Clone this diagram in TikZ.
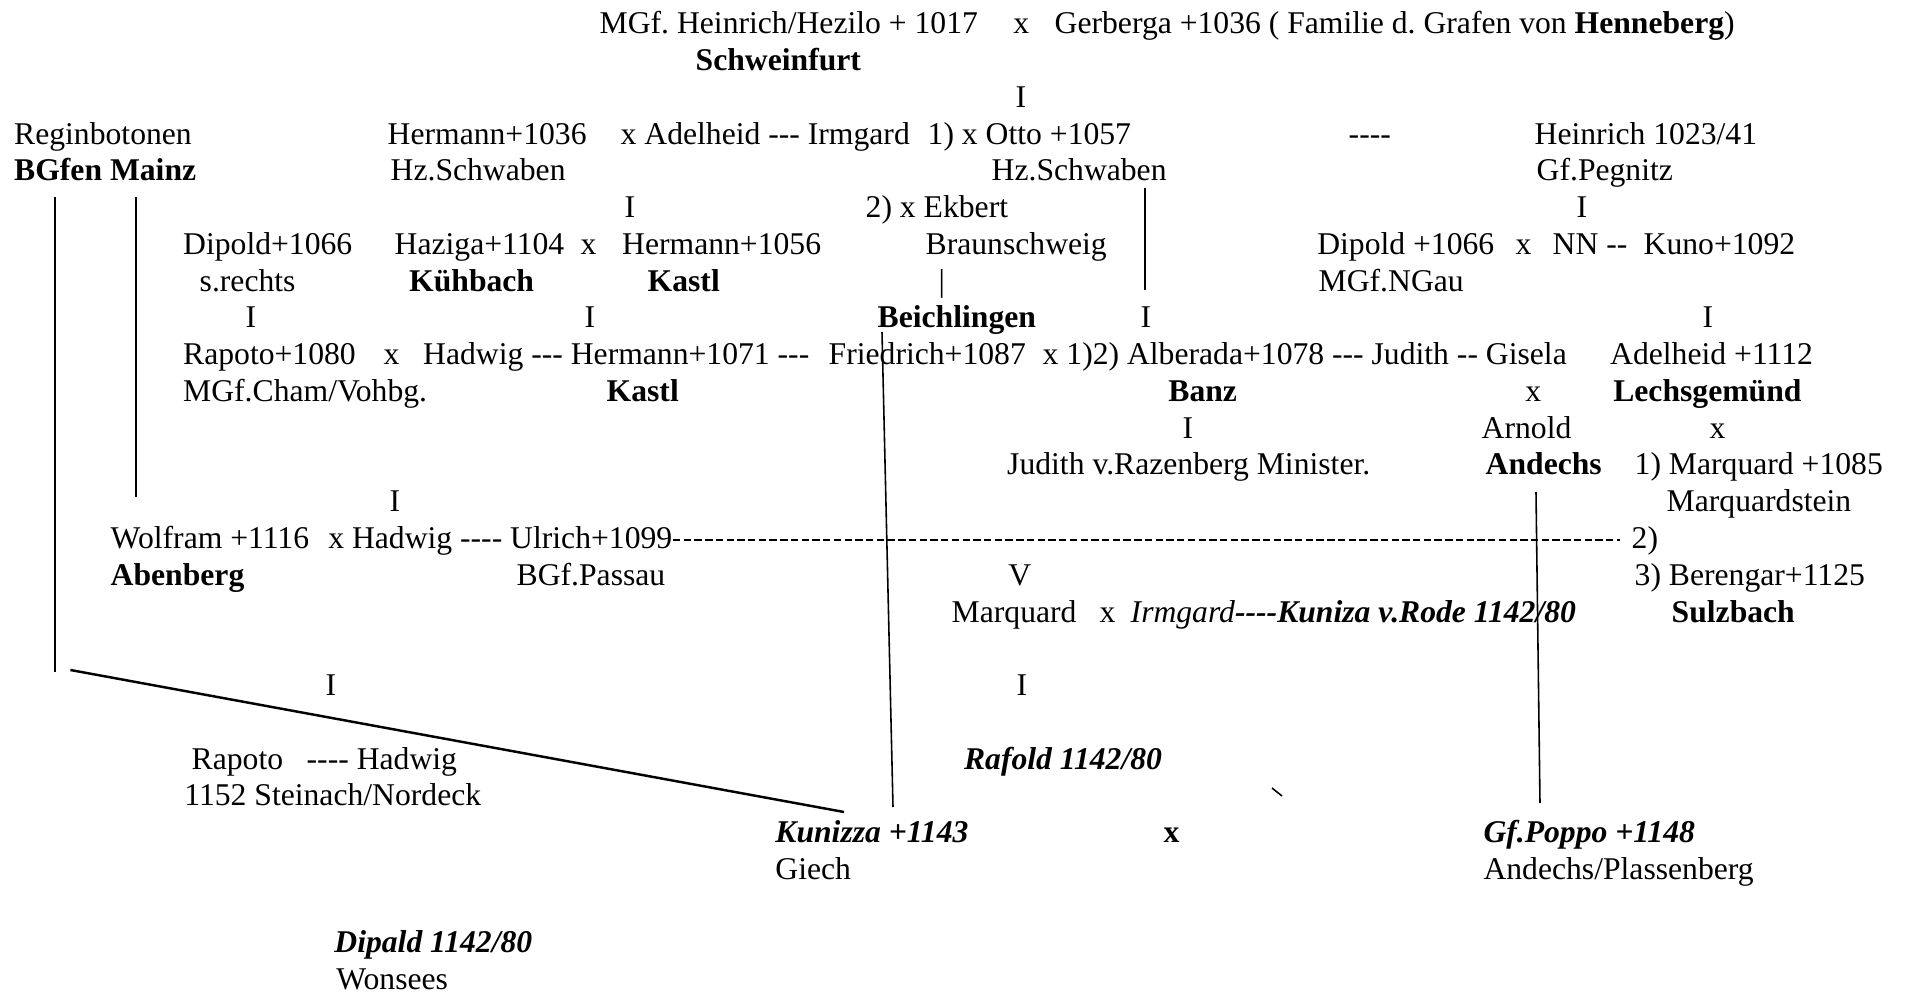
\documentclass[tikz,border=0pt]{standalone}
\usepackage{fontspec}
\setmainfont{Liberation Serif}[Ligatures=TeXOff]
\frenchspacing
\begin{document}
\begin{tikzpicture}[
  x=0.01cm,y=-0.01cm,
  every node/.style={anchor=base west,inner sep=0pt,font=\fontsize{9}{11}\selectfont\frenchspacing},
  edge/.style={line width=0.45pt},
  marriage/.style={line width=0.6pt,dash pattern=on 2.1pt off 0.95pt}
]
\useasboundingbox (0,0) rectangle (1905,994);
\node (heinrich) at (599,34) {MGf. Heinrich/Hezilo + 1017};
\node (x1) at (1012.6,34) {x};
\node (gerberga) at (1054,34) {Gerberga +1036 ( Familie d. Grafen von \textbf{Henneberg})};
\node (schweinfurt) at (695,70.75) {\textbf{Schweinfurt}};
\node (i1) at (1015,107.5) {I};
\node (reginbotonen) at (13.5,144.25) {Reginbotonen};
\node (hermann) at (387,144.25) {Hermann+1036};
\node (adelheid) at (620,144.25) {x Adelheid --- Irmgard};
\node (otto) at (927,144.25) {1) x Otto +1057};
\node (dash1) at (1348,144.25) {----};
\node (heinrichpeg) at (1534,144.25) {Heinrich 1023/41};
\node (mainz) at (13.5,181) {\textbf{BGfen Mainz}};
\node (schwaben1) at (390,181) {Hz.Schwaben};
\node (schwaben2) at (991,181) {Hz.Schwaben};
\node (pegnitz) at (1536,181) {Gf.Pegnitz};
\node (i2) at (624,217.75) {I};
\node (ekbert) at (865,217.75) {2) x Ekbert};
\node (i3) at (1576,217.75) {I};
\node (dipold1) at (182.5,254.5) {Dipold+1066};
\node (haziga) at (394,254.5) {Haziga+1104};
\node (x2) at (580,254.5) {x};
\node (hermannk) at (621.5,254.5) {Hermann+1056};
\node (braunschweig) at (925,254.5) {Braunschweig};
\node (dipold2) at (1316.6,254.5) {Dipold +1066};
\node (x3) at (1515,254.5) {x};
\node (nn) at (1552,254.5) {NN --};
\node (kuno) at (1643,254.5) {Kuno+1092};
\node (rechts) at (199,291.25) {s.rechts};
\node (kuehbach) at (408.5,291.25) {\textbf{Kühbach}};
\node (kastl1) at (647,291.25) {\textbf{Kastl}};
\node (bar) at (938,291.25) {|};
\node (ngau) at (1318,291.25) {MGf.NGau};
\node (i4) at (245,328) {I};
\node (i5) at (584,328) {I};
\node (beichlingen) at (877,328) {\textbf{Beichlingen}};
\node (i6) at (1140,328) {I};
\node (i7) at (1702,328) {I};
\node (rapoto1) at (182.5,364.75) {Rapoto+1080};
\node (x4) at (383,364.75) {x};
\node (hadwig1) at (422.5,364.75) {Hadwig --- Hermann+1071 ---};
\node (friedrich) at (828,364.75) {Friedrich+1087};
\node (alberada) at (1042,364.75) {x 1)2) Alberada+1078 --- Judith -- Gisela};
\node (adelheid2) at (1609.5,364.75) {Adelheid +1112};
\node (cham) at (182.5,401.5) {MGf.Cham/Vohbg.};
\node (kastl2) at (606,401.5) {\textbf{Kastl}};
\node (banz) at (1167.7,401.5) {\textbf{Banz}};
\node (x5) at (1524.6,401.5) {x};
\node (lechsgemuend) at (1612.6,401.5) {\textbf{Lechsgemünd}};
\node (i8) at (1182,438.25) {I};
\node (arnold) at (1481,438.25) {Arnold};
\node (x6) at (1709,438.25) {x};
\node (judith) at (1006.5,475) {Judith v.Razenberg Minister.};
\node (andechs) at (1485,475) {\textbf{Andechs}};
\node (marquard1) at (1634,475) {1) Marquard +1085};
\node (i9) at (389,511.75) {I};
\node (marquardstein) at (1666,511.75) {Marquardstein};
\node (wolfram) at (110,548.5) {Wolfram +1116};
\node (ulrich) at (327.6,548.5) {x Hadwig ---- Ulrich+1099};
\node (m2) at (1631,548.5) {2)};
\node (abenberg) at (110,585.25) {\textbf{Abenberg}};
\node (passau) at (516,585.25) {BGf.Passau};
\node (v) at (1007.7,585.25) {V};
\node (berengar) at (1634,585.25) {3) Berengar+1125};
\node (marquard2) at (951,622) {Marquard};
\node (x7) at (1099,622) {x};
\node (irmgard) at (1130,622) {\textit{Irmgard}\textbf{\textit{----Kuniza v.Rode 1142/80}}};
\node (sulzbach) at (1671,622) {\textbf{Sulzbach}};
\node (i10) at (325,695.5) {I};
\node (i11) at (1016,695.5) {I};
\node (rapoto2) at (191,769) {Rapoto};
\node (hadwig3) at (306,769) {---- Hadwig};
\node (rafold) at (963.4,769) {\textbf{\textit{Rafold 1142/80}}};
\node (steinach) at (183.7,805.75) {1152 Steinach/Nordeck};
\node (kunizza) at (774.7,842.5) {\textbf{\textit{Kunizza +1143}}};
\node (x8) at (1162.8,842.5) {\textbf{x}};
\node (poppo) at (1482.8,842.5) {\textbf{\textit{Gf.Poppo +1148}}};
\node (giech) at (774.7,879.25) {Giech};
\node (plassenberg) at (1482.8,879.25) {Andechs/Plassenberg};
\node (dipald) at (333.7,952.75) {\textbf{\textit{Dipald 1142/80}}};
\node (wonsees) at (335.6,989.5) {Wonsees};
\coordinate (mainzA) at (55,197);
\coordinate (mainzB) at (55,672);
\coordinate (mainzC) at (136,197);
\coordinate (mainzD) at (136,497);
\coordinate (diagA) at (70.4,670);
\coordinate (kunizzaA) at (844,812);
\coordinate (ottoA) at (1145,188);
\coordinate (ottoB) at (1145,290);
\coordinate (beichA) at (882,332);
\coordinate (kunizzaB) at (893,807);
\coordinate (andechsA) at (1536,492);
\coordinate (poppoA) at (1540,803);
\coordinate (tickA) at (1272,788);
\coordinate (tickB) at (1282,796);
\draw[edge] (mainzA)--(mainzB);
\draw[edge] (mainzC)--(mainzD);
\draw[edge,line width=0.7pt] (diagA)--(kunizzaA);
\draw[edge] (ottoA)--(ottoB);
\draw[edge] (beichA)--(kunizzaB);
\draw[edge] (andechsA)--(poppoA);
\draw[edge] (tickA)--(tickB);
\draw[marriage] ([yshift=2.5pt]ulrich.base east)--([xshift=-3pt,yshift=2.5pt]m2.base west);
\end{tikzpicture}
\end{document}
